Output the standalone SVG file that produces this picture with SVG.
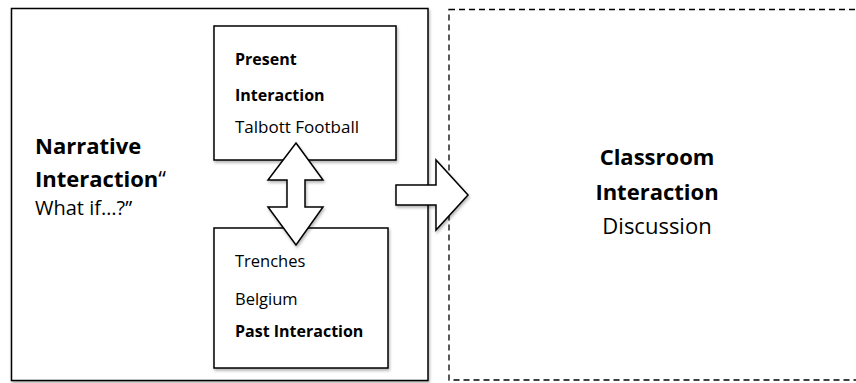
<svg xmlns="http://www.w3.org/2000/svg" width="856" height="383" viewBox="0 0 856 383">
  <defs>
    <filter id="sh" x="-10%" y="-10%" width="130%" height="130%">
      <feDropShadow dx="1" dy="2" stdDeviation="1.5" flood-color="#000" flood-opacity="0.3"/>
    </filter>
  </defs>
  <style>
    .box { fill: #fff; stroke: #000; stroke-width: 1.5; }
    .dash { fill: #fff; stroke: #000; stroke-width: 1.3; stroke-dasharray: 6 4; }
    .arrow { fill: #fff; stroke: #000; stroke-width: 1.5; stroke-linejoin: miter; }
    text { font-family: "Open Sans", "Liberation Sans", sans-serif; fill: #000; }
    .b { font-weight: bold; }
    .big { font-size: 22px; }
    .sm { font-size: 16px; }
    .smr { font-size: 16.5px; }
  </style>
  <rect width="856" height="383" fill="#fff"/>

  <g id="classroom">
    <rect class="dash" x="449" y="9.5" width="420" height="370.5"/>
    <text class="big b" x="657" y="165" text-anchor="middle">Classroom</text>
    <text class="big b" x="657" y="200" text-anchor="middle">Interaction</text>
    <text class="big" x="657" y="234" text-anchor="middle">Discussion</text>
  </g>

  <g id="narrative">
    <rect class="box" x="11.5" y="8.5" width="416.5" height="372" filter="url(#sh)"/>
    <text class="big b" x="35" y="154">Narrative</text>
    <text class="big" x="35" y="187"><tspan class="b">Interaction</tspan>“</text>
    <text x="35" y="215" style="font-size:20px">What if…?”</text>
  </g>

  <g id="present">
    <rect class="box" x="214" y="26" width="182" height="134" filter="url(#sh)"/>
    <text class="sm b" x="235" y="65">Present</text>
    <text class="sm b" x="235" y="101">Interaction</text>
    <text class="smr" x="235" y="133" style="font-size:17px">Talbott Football</text>
  </g>

  <g id="past">
    <rect class="box" x="214" y="228" width="174" height="140" filter="url(#sh)"/>
    <text class="smr" x="235" y="267">Trenches</text>
    <text class="smr" x="235" y="305">Belgium</text>
    <text class="sm b" x="235" y="337">Past Interaction</text>
  </g>

  <g id="connectors">
    <polygon class="arrow" filter="url(#sh)" points="296,143 323,180 305,180 305,207 323,207 296,245 268,207 287,207 287,180 268,180"/>
    <polygon class="arrow" filter="url(#sh)" points="396,185 436,185 436,160 468,195 436,230 436,205 396,205"/>
  </g>
</svg>
